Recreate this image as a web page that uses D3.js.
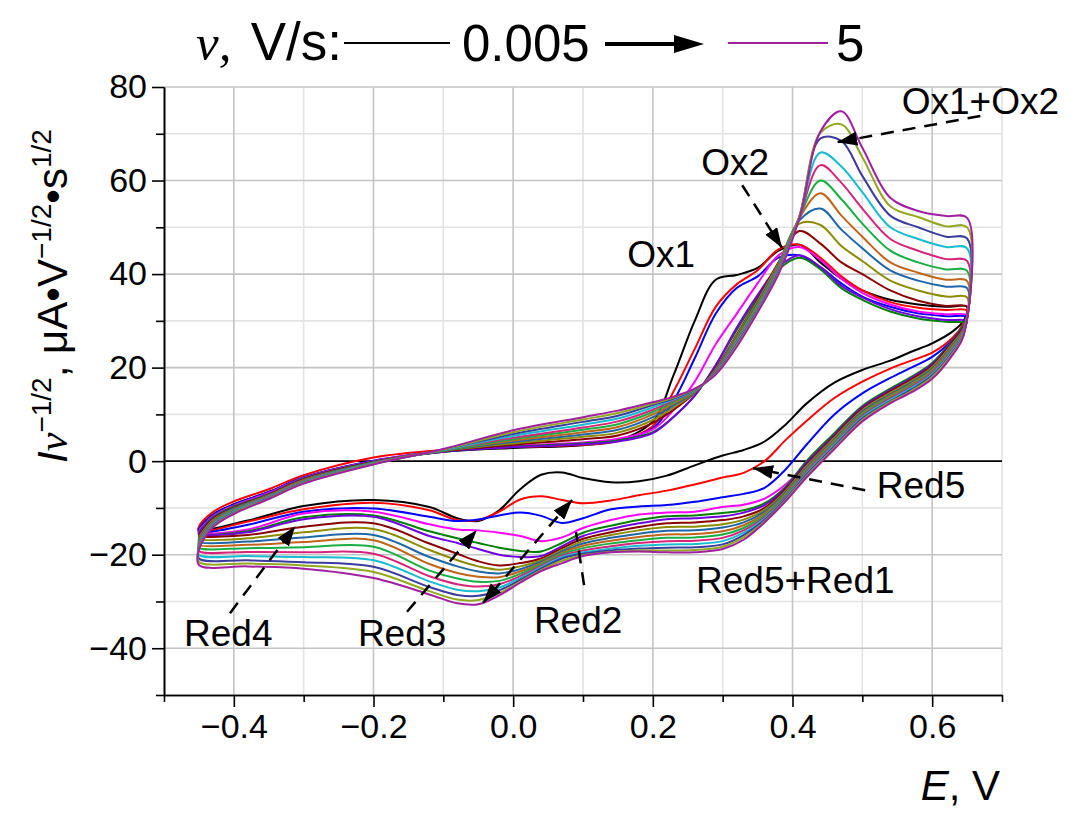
<!DOCTYPE html>
<html><head><meta charset="utf-8">
<script src="https://cdn.jsdelivr.net/npm/d3@7"></script>
<style>body{margin:0;background:#fff} svg{display:block}</style>
</head><body><svg id="chart" width="1082" height="821"></svg>
<script>
// ---- potentials (V) of the anodic (forward) and cathodic (reverse) sweeps
const fwdE = [-0.45,-0.43,-0.4,-0.35,-0.3,-0.2,-0.1,0.0,0.1,0.15,0.2,0.23,0.26,0.29,0.32,0.35,0.38,0.41,0.44,0.47,0.5,0.54,0.58,0.62,0.65];
const revE = [0.645,0.63,0.6,0.57,0.54,0.5,0.46,0.42,0.39,0.36,0.33,0.3,0.26,0.22,0.18,0.14,0.1,0.07,0.04,0.01,-0.02,-0.05,-0.08,-0.12,-0.2,-0.3,-0.38,-0.45];

// ---- normalised current I·v^-1/2 for each curve (slowest 0.005 V/s first, fastest 5 V/s last)
const c01F = [-14.3,-11.4,-9.2,-6.6,-3.5,0.0,2.0,2.8,3.4,4.4, 8.5,18.5,30,38.8,39.8,41.3,45,46.3, 42.5,39,36.5,34.5,33.5,33,33];
const c01R = [30,27.8,25.2,23.4,21.5,19.5,16.8,12.3,7.8,4.2,2.4,1.2,-0.9,-3.1,-4.3,-4.5,-3.6,-2.4,-2.9,-6,-10.5,-12.8,-12.2,-9.8,-8.3,-9.6,-12.7,-14.8];
const c02F = [-14.0,-10.9,-8.6,-6.0,-3.0,0.8,2.4,3.0,3.5,4.3, 7.5,15,24,33,37.8,40.8,45.3,46.3, 43.5,39.5,36.5,34,32.8,32.3,32.2];
const c02R = [29.5,26.5,23.2,21.5,19.8,17,13.5,8.6,4.5,0,-2.5,-3.5,-5,-6.3,-7.3,-8.4,-9,-8.3,-7.5,-8.2,-10.8,-12.6,-12.6,-10.5,-8.9,-10.3,-12.9,-15];
const c03F = [-14.6,-11.5,-9.3,-6.6,-3.5,0.1,2.1,3.1,3.7,4.5, 7,13,22,31.5,37,39.5,43.5,44, 41.5,38,35.2,33,31.6,31,30.8];
const c03R = [29,26,22.3,20,17.8,14.5,10,3.5,-1.8,-5.7,-7,-7.7,-8.7,-9.4,-9.7,-10.3,-12.2,-13.2,-11.7,-11,-11.6,-12.5,-12.8,-11.9,-10.1,-10.8,-13.6,-15.2];
const c04F = [-15.0,-11.8,-9.5,-6.8,-3.6,0.0,2.1,3.3,4.0,4.8, 6.8,11,17,25,31.5,38,44,45.8, 43,39,36,33.5,32,31.4,31.2];
const c04R = [29,25.8,20.5,17.5,15,11,5.5,-0.5,-5,-8,-9.3,-9.8,-10.8,-11,-11.4,-12.6,-14.3,-16.3,-17.1,-16,-15.3,-14.8,-14.6,-13.5,-10.8,-11.2,-14.6,-15.4];
const c05F = [-15.3,-12.0,-9.7,-7.0,-3.7,-0.1,2.0,3.1,3.8,4.4, 6.2,9.5,14,20.5,28,35,41,43.5, 41,37,34.5,32,30.5,29.8,29.6];
const c05R = [29,26,21,18,15.5,11.8,6,0,-5.5,-9,-10.5,-11.1,-11.6,-11.8,-12.6,-13.8,-15.3,-17.5,-19.3,-19.2,-18.5,-17.5,-16.5,-15,-11.6,-12,-15,-15.6];
const c06F = [-15.5,-12.2,-9.9,-7.1,-3.8,-0.2,2.0,3.0,3.6,4.2, 6.0,9.5,14,20.5,28.5,35.5,41.5,44, 41.5,37.5,35,32.5,31,30.2,30];
const c06R = [28.8,25.8,20.7,17.7,15.2,11.5,5.6,-0.4,-5.8,-9.4,-11,-11.8,-12.2,-12.4,-13.3,-14.5,-16,-18.2,-20.3,-20.5,-20,-18.8,-17.5,-16,-11.9,-12.4,-15.2,-15.7];
const c07F = [-16.0,-12.4,-10.0,-7.2,-3.9,-0.2,2.1,3.5,4.7,5.5, 8.2,11.0,14.6,19.8,27,34.5,42.5,49.2, 46.5,42.5,40,36.5,34.3,33.2,33];
const c07R = [28.6,25.6,20.4,17.4,14.9,11.2,5.3,-0.8,-6.1,-10,-11.8,-12.6,-13.1,-13.3,-14.1,-15.2,-16.6,-18.6,-20.8,-21.8,-22.3,-21.4,-19.8,-17.6,-13.3,-14,-15.8,-16.1];
const c08F = [-16.4,-12.6,-10.1,-7.3,-4.0,-0.3,2.2,3.8,5.2,6.1, 8.8,11.5,14.7,19.6,26.8,34.2,42.3,50.8, 50.5,46,42.8,38.6,36.5,35.2,35];
const c08R = [28.4,25.3,20.1,17.1,14.6,10.9,5,-1.1,-6.4,-10.4,-12.5,-13.5,-14,-14.1,-14.8,-15.8,-17.1,-19,-21.2,-22.5,-23.2,-22.5,-21.2,-19,-14.5,-15.2,-16.5,-16.7];
const c09F = [-16.8,-12.8,-10.2,-7.4,-4.1,-0.3,2.2,4.1,5.7,6.7, 9.4,12.0,14.8,19.4,26.5,33.8,42,51.5, 54,49.5,45.5,40.8,38.6,37.3,37];
const c09R = [28.2,25,19.8,16.8,14.3,10.6,4.7,-1.4,-6.7,-10.8,-13.1,-14.2,-14.8,-14.9,-15.5,-16.4,-17.6,-19.3,-21.5,-23.1,-24,-23.6,-22.5,-20.5,-15.8,-16.3,-17.2,-17.3];
const c10F = [-17.2,-13.0,-10.4,-7.5,-4.2,-0.4,2.3,4.4,6.2,7.3, 10.0,12.4,14.9,19.2,26.2,33.4,41.7,52, 57.3,52.5,48,42.5,40.3,38.8,38.5];
const c10R = [28,24.7,19.5,16.5,14,10.3,4.4,-1.7,-7,-11.2,-13.7,-15,-15.6,-15.7,-16.2,-17,-18.1,-19.6,-21.8,-23.6,-24.8,-24.7,-23.9,-22,-16.9,-17.3,-17.9,-17.9];
const c11F = [-17.5,-13.2,-10.5,-7.6,-4.3,-0.4,2.3,4.7,6.7,7.9, 10.5,12.7,15.0,19.0,25.9,33,41.4,52.2, 60,56,50.8,45,42.5,41,40.7];
const c11R = [27.8,24.4,19.2,16.2,13.7,10,4.1,-2,-7.3,-11.6,-14.3,-15.7,-16.3,-16.4,-16.9,-17.6,-18.6,-19.9,-22.1,-24.1,-25.6,-25.8,-25.1,-23.4,-18.3,-18.4,-18.6,-18.5];
const c12F = [-17.8,-13.4,-10.7,-7.7,-4.4,-0.5,2.4,5.0,7.2,8.5, 11.0,13.0,15.1,18.9,25.6,32.6,41.1,52.3, 63.3,59.5,54,47.5,45,43.2,42.8];
const c12R = [27.6,24.1,18.9,15.9,13.4,9.7,3.8,-2.3,-7.6,-12,-14.8,-16.4,-17,-17.1,-17.5,-18.2,-19.1,-20.2,-22.4,-24.6,-26.3,-26.8,-26.3,-24.6,-19.8,-19.5,-19.4,-19.2];
const c13F = [-18.1,-13.6,-10.8,-7.8,-4.5,-0.5,2.4,5.4,7.8,9.1, 11.5,13.2,15.2,18.8,25.3,32.4,40.8,52.3, 66,63,57.5,50,47.5,45.8,45.5];
const c13R = [27.4,23.8,18.6,15.6,13.1,9.4,3.5,-2.6,-7.9,-12.3,-15.3,-17.1,-17.7,-17.8,-18.1,-18.7,-19.5,-20.5,-22.7,-25,-27,-27.8,-27.5,-25.7,-21.2,-20.5,-20.3,-20];
const c14F = [-18.4,-13.8,-11.0,-7.9,-4.6,-0.6,2.5,5.8,8.4,9.7, 12.0,13.4,15.3,18.7,25,32.2,40.5,52.4, 69,68.5,61,52.5,50,48,47.6];
const c14R = [27.2,23.5,18.3,15.3,12.8,9.1,3.2,-2.9,-8.1,-12.6,-15.8,-17.8,-18.4,-18.5,-18.7,-19.1,-19.8,-20.8,-23,-25.4,-27.6,-28.8,-28.6,-26.9,-22.6,-21.6,-21.2,-20.8];
const c15F = [-18.7,-14.0,-11.1,-8.0,-4.7,-0.6,2.5,6.2,8.9,10.3, 12.3,13.6,15.4,18.6,24.7,32,40.2,52.4, 70.2,72,65,54.5,52.2,50.2,50];
const c15R = [27,23.2,18,15,12.6,8.8,2.9,-3.2,-8.4,-12.9,-16.3,-18.3,-19,-19.1,-19.1,-19.4,-20.1,-21.3,-23.3,-25.8,-28.2,-29.7,-29.6,-27.8,-23.7,-22.3,-21.9,-21.5];
const c16F = [-19.0,-14.2,-11.3,-8.1,-4.8,-0.7,2.6,6.6,9.4,10.8, 12.6,13.8,15.5,18.5,24.4,31.8,40,52, 70.5,74.8,67,56.3,53.5,52.4,52];
const c16R = [26.8,22.9,17.6,14.7,12.4,8.5,2.6,-3.5,-8.6,-13.1,-16.8,-18.8,-19.5,-19.5,-19.3,-19.5,-20.3,-21.8,-23.5,-26,-28.7,-30.6,-30.4,-28.5,-25,-23,-22.5,-22.2];

const forwardSweeps = [c01F,c02F,c03F,c04F,c05F,c06F,c07F,c08F,c09F,c10F,c11F,c12F,c13F,c14F,c15F,c16F];
const reverseSweeps = [c01R,c02R,c03R,c04R,c05R,c06R,c07R,c08R,c09R,c10R,c11R,c12R,c13R,c14R,c15R,c16R];
const curveColors = ["#000000","#ff0000","#0000ff","#ff00ff","#008000","#7000e0","#8b0000","#8c8c00",
                     "#1f66a8","#c0641a","#1aae44","#d8237a","#17bcd0","#3c3ca0","#91a81f","#a020a0"];

// ---- axes
const xMajor = [-0.4,-0.2,0.0,0.2,0.4,0.6];
const xMinor = [-0.5,-0.3,-0.1,0.1,0.3,0.5,0.7];
const yMajor = [-40,-20,0,20,40,60,80];
const yMinor = [-50,-30,-10,10,30,50,70];
const legendLabels = ["0.005","5"];

// ---- annotations [label, x(E), y(I)] and arrows [x1,y1,x2,y2]
const labels = [["Ox1+Ox2",0.669,74.2],["Ox2",0.318,61.2],["Ox1",0.212,41.5],["Red4",-0.408,-39.6],
                ["Red3",-0.159,-39.6],["Red2",0.093,-36.7],["Red5",0.584,-7.9],["Red5+Red1",0.404,-28.2]];
const arrows = [[0.669,73.8,0.464,68.2],[0.328,59.0,0.385,45.6],[-0.4055,-32.5,-0.312,-13.9],
                [-0.152,-32.2,-0.052,-14.7],[0.504,-6.2,0.3435,-1.5]];
const doubleArrow = [0.0843,-8.3,-0.0432,-30.3];
const plainDash = [0.1015,-26.5,0.09,-15.2];

const svg = d3.select("#chart");
const FONT = "'Liberation Sans', Arial, sans-serif";
const x = d3.scaleLinear([-0.5,0.7],[164,1002]);
const y = d3.scaleLinear([-50,80],[695,87]);

// grid
const g = svg.append("g");
xMinor.filter(v=>v>-0.5).forEach(v=>g.append("line").attr("x1",x(v)).attr("x2",x(v)).attr("y1",y(-50)).attr("y2",y(80)).attr("stroke","#e3e3e3").attr("stroke-width",1.6));
yMinor.filter(v=>v>-50).forEach(v=>g.append("line").attr("x1",x(-0.5)).attr("x2",x(0.7)).attr("y1",y(v)).attr("y2",y(v)).attr("stroke","#e3e3e3").attr("stroke-width",1.6));
xMajor.forEach(v=>g.append("line").attr("x1",x(v)).attr("x2",x(v)).attr("y1",y(-50)).attr("y2",y(80)).attr("stroke","#c4c4c4").attr("stroke-width",1.6));
yMajor.filter(v=>v!==0).forEach(v=>g.append("line").attr("x1",x(-0.5)).attr("x2",x(0.7)).attr("y1",y(v)).attr("y2",y(v)).attr("stroke","#c4c4c4").attr("stroke-width",1.6));
g.append("line").attr("x1",x(-0.5)).attr("x2",x(0.7)).attr("y1",y(0)).attr("y2",y(0)).attr("stroke","#000").attr("stroke-width",1.6);

// curves
const line = d3.line().x(d=>x(d[0])).y(d=>y(d[1])).curve(d3.curveCatmullRomClosed.alpha(0.5));
forwardSweeps.forEach((f,k)=>{
  const pts = fwdE.map((e,i)=>[e,f[i]]).concat(revE.map((e,i)=>[e,reverseSweeps[k][i]]));
  svg.append("path").attr("d",line(pts)).attr("fill","none").attr("stroke",curveColors[k])
     .attr("stroke-width",2).attr("stroke-linejoin","round");
});

// axes
function styleAxis(sel){ sel.select(".domain").attr("stroke","#000").attr("stroke-width",1.6);
  sel.selectAll(".tick line").attr("stroke","#000").attr("stroke-width",1.6);
  sel.selectAll("text").attr("font-family",FONT).attr("font-size",34).attr("fill","#000"); }
svg.append("g").attr("transform",`translate(${x(-0.5)},0)`)
   .call(d3.axisLeft(y).tickValues(yMajor).tickSize(12).tickSizeOuter(0).tickPadding(5).tickFormat(d3.format("d"))).call(styleAxis);
svg.append("g").attr("transform",`translate(${x(-0.5)},0)`)
   .call(d3.axisLeft(y).tickValues(yMinor).tickSize(8).tickSizeOuter(0).tickFormat("")).call(styleAxis);
svg.append("g").attr("transform",`translate(0,${y(-50)})`)
   .call(d3.axisBottom(x).tickValues(xMajor).tickSize(12).tickSizeOuter(0).tickPadding(7).tickFormat(d3.format(".1f"))).call(styleAxis);
svg.append("g").attr("transform",`translate(0,${y(-50)})`)
   .call(d3.axisBottom(x).tickValues(xMinor).tickSize(7).tickSizeOuter(0).tickFormat("")).call(styleAxis);

// axis titles
const yt = svg.append("text").attr("transform","translate(67,296) rotate(-90)").attr("text-anchor","middle")
  .attr("font-family",FONT).attr("font-size",42);
yt.append("tspan").attr("font-style","italic").text("I");
yt.append("tspan").attr("font-style","italic").attr("font-family","'Liberation Serif', serif").text("ν");
yt.append("tspan").attr("font-size",28).attr("dy",-16).text("−1/2");
yt.append("tspan").attr("dy",16).text(", μA•V");
yt.append("tspan").attr("font-size",28).attr("dy",-16).text("−1/2");
yt.append("tspan").attr("dy",16).text("•s");
yt.append("tspan").attr("font-size",28).attr("dy",-16).text("1/2");
const xt = svg.append("text").attr("x",1000).attr("y",800).attr("text-anchor","end").attr("font-family",FONT).attr("font-size",42);
xt.append("tspan").attr("font-style","italic").text("E");
xt.append("tspan").text(", V");

// legend
const lg = svg.append("g").attr("font-family",FONT).attr("font-size",51);
lg.append("text").attr("x",196).attr("y",60).attr("font-family","'Liberation Serif', serif").attr("font-style","italic").text("ν,");
lg.append("text").attr("x",342).attr("y",60).attr("text-anchor","end").attr("font-size",53).text("V/s:");
lg.append("line").attr("x1",344).attr("x2",450).attr("y1",43).attr("y2",43).attr("stroke",curveColors[0]).attr("stroke-width",2);
lg.append("text").attr("x",462).attr("y",61).text(legendLabels[0]);
lg.append("line").attr("x1",605).attr("x2",680).attr("y1",44).attr("y2",44).attr("stroke","#000").attr("stroke-width",4);
lg.append("path").attr("d","M674,35 L704,44 L674,53 Z").attr("fill","#000");
lg.append("line").attr("x1",728).attr("x2",828).attr("y1",43).attr("y2",43).attr("stroke",curveColors[15]).attr("stroke-width",2);
lg.append("text").attr("x",836).attr("y",61).text(legendLabels[1]);

// annotations
const defs = svg.append("defs");
defs.append("marker").attr("id","ah").attr("viewBox","0 0 20 14").attr("refX",20).attr("refY",7)
  .attr("markerWidth",20).attr("markerHeight",14).attr("markerUnits","userSpaceOnUse").attr("orient","auto-start-reverse")
  .append("path").attr("d","M0,0 L20,7 L0,14 Z").attr("fill","#000");
const an = svg.append("g");
arrows.forEach(a=>an.append("line").attr("x1",x(a[0])).attr("y1",y(a[1])).attr("x2",x(a[2])).attr("y2",y(a[3]))
  .attr("stroke","#000").attr("stroke-width",2.5).attr("stroke-dasharray","13,9").attr("marker-end","url(#ah)"));
an.append("line").attr("x1",x(doubleArrow[0])).attr("y1",y(doubleArrow[1])).attr("x2",x(doubleArrow[2])).attr("y2",y(doubleArrow[3]))
  .attr("stroke","#000").attr("stroke-width",2.5).attr("stroke-dasharray","13,9").attr("marker-end","url(#ah)").attr("marker-start","url(#ah)");
an.append("line").attr("x1",x(plainDash[0])).attr("y1",y(plainDash[1])).attr("x2",x(plainDash[2])).attr("y2",y(plainDash[3]))
  .attr("stroke","#000").attr("stroke-width",2.5).attr("stroke-dasharray","13,9");
labels.forEach(l=>an.append("text").attr("x",x(l[1])).attr("y",y(l[2])).attr("text-anchor","middle")
  .attr("font-family",FONT).attr("font-size",37).attr("fill","#000").text(l[0]));
</script></body></html>
